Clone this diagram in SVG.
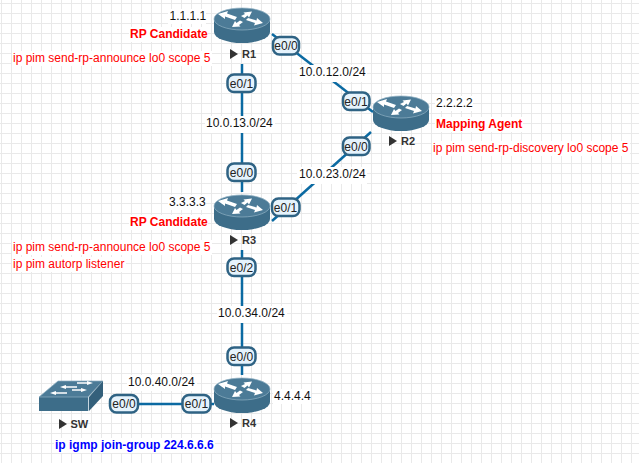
<svg xmlns="http://www.w3.org/2000/svg" width="639" height="463" viewBox="0 0 639 463">
<style>
text{font-family:"Liberation Sans",Arial,sans-serif;font-size:12px;fill:#111}
.bg{fill:#fff}
.red{fill:#f00}.blue{fill:#00f}.b{font-weight:bold}
.link{stroke:#0b6aa2;stroke-width:2.5;fill:none}
.ifbox{fill:#e6f3fc;stroke:#2f6384;stroke-width:2.5}
.if{text-anchor:middle;fill:#222;font-size:12px}
.nm{font-weight:bold;fill:#333;font-size:11px}
.tri{fill:#333}
.body{fill:#3d6d89}
.top{fill:#4c7b97;stroke:#8fb0c3;stroke-width:.7}
.arw{fill:#fff}
</style>
<defs>
<pattern id="grid" width="10" height="10" patternUnits="userSpaceOnUse" x="1" y="3">
<path d="M0 .5H10M.5 0V10" stroke="#e9e9e9" stroke-width="1" fill="none"/>
</pattern>
<g id="router">
<path class="body" d="M-28 0V13A28 11 0 0 0 28 13V0Z"/>
<ellipse class="top" cx="0" cy="0" rx="28" ry="11"/>
<path class="arw" d="M-24 -5L-14 -8L-15 -5.500L-5 -2L-7 1L-17 -2.500L-17 0ZM21 4L12 6.500L13 4L4 1L6 -1L14.500 1.500L15 -1ZM10 -7.500L7 -1.500L5.500 -3.500L2.500 -1L-1 -3L3 -5L1.500 -6.500ZM-10 8L-7 2L-5.500 4L-2 1.500L1 3L-3 6L-1.500 7.500Z"/>
</g>
</defs>
<rect width="639" height="463" fill="#fff"/>
<rect width="639" height="463" fill="url(#grid)"/>
<g id="connectors">
<path class="link" d="M242 64V192"/>
<path class="link" d="M272 34L373 112"/>
<path class="link" d="M272 221L371 132"/>
<path class="link" d="M242 250V375"/>
<path class="link" d="M124 404H214"/>
</g>
<g id="link-labels">
<rect class="bg" x="297" y="65" width="70" height="17"/><text x="299" y="76">10.0.12.0/24</text>
<rect class="bg" x="205" y="116" width="70" height="17"/><text x="206" y="127">10.0.13.0/24</text>
<rect class="bg" x="297" y="167" width="70" height="17"/><text x="299" y="178">10.0.23.0/24</text>
<rect class="bg" x="217" y="306" width="70" height="17"/><text x="218" y="317">10.0.34.0/24</text>
<rect class="bg" x="127" y="375" width="70" height="16"/><text x="128" y="386">10.0.40.0/24</text>
</g>
<g id="R1">
<use href="#router" x="242" y="19"/>
<path class="tri" d="M230 49L238 54L230 59Z"/>
<text class="nm" x="242" y="58">R1</text>
<rect class="bg" x="168" y="9" width="38" height="15"/><text x="169.500" y="20">1.1.1.1</text>
<rect class="bg" x="129" y="27" width="79" height="15"/><text class="red b" x="130" y="38">RP Candidate</text>
<rect class="bg" x="12" y="51" width="200" height="15"/><text class="red" x="13" y="62">ip pim send-rp-announce lo0 scope 5</text>
<rect class="ifbox" x="273" y="37" width="26" height="17.500" rx="6.500"/><text class="if" x="286" y="50">e0/0</text>
<rect class="ifbox" x="227.500" y="74.500" width="28" height="17.500" rx="6.500"/><text class="if" x="241.500" y="87.500">e0/1</text>
</g>
<g id="R2">
<use href="#router" x="401" y="107"/>
<path class="tri" d="M389 136L397 141L389 146Z"/>
<text class="nm" x="401" y="145">R2</text>
<rect class="bg" x="435" y="96" width="38" height="15"/><text x="436" y="107">2.2.2.2</text>
<rect class="bg" x="435" y="117" width="88" height="15"/><text class="red b" x="436" y="128">Mapping Agent</text>
<rect class="bg" x="432" y="141" width="198" height="15"/><text class="red" x="433" y="152">ip pim send-rp-discovery lo0 scope 5</text>
<rect class="ifbox" x="343" y="92.500" width="26.500" height="17.500" rx="6.500"/><text class="if" x="356" y="105.500">e0/1</text>
<rect class="ifbox" x="343" y="137.500" width="26.500" height="17.500" rx="6.500"/><text class="if" x="356" y="150.500">e0/0</text>
</g>
<g id="R3">
<use href="#router" x="242" y="206"/>
<path class="tri" d="M230 235L238 240L230 245Z"/>
<text class="nm" x="242" y="244">R3</text>
<rect class="bg" x="168" y="195" width="38" height="15"/><text x="169" y="206">3.3.3.3</text>
<rect class="bg" x="129" y="215" width="79" height="15"/><text class="red b" x="130" y="226">RP Candidate</text>
<rect class="bg" x="12" y="240" width="200" height="15"/><text class="red" x="13" y="251">ip pim send-rp-announce lo0 scope 5</text>
<rect class="bg" x="12" y="257" width="114" height="15"/><text class="red" x="13" y="268">ip pim autorp listener</text>
<rect class="ifbox" x="227.500" y="163.500" width="28" height="17.500" rx="6.500"/><text class="if" x="241.500" y="176.500">e0/0</text>
<rect class="ifbox" x="272" y="198.500" width="27.500" height="17.500" rx="6.500"/><text class="if" x="285.500" y="211.500">e0/1</text>
<rect class="ifbox" x="227.500" y="258.500" width="28" height="17.500" rx="6.500"/><text class="if" x="241.500" y="271.500">e0/2</text>
</g>
<g id="R4">
<use href="#router" x="242" y="389"/>
<path class="tri" d="M230 418L238 423L230 428Z"/>
<text class="nm" x="242" y="427">R4</text>
<rect class="bg" x="273" y="389" width="38" height="15"/><text x="274" y="400">4.4.4.4</text>
<rect class="ifbox" x="227.500" y="347.500" width="28" height="17.500" rx="6.500"/><text class="if" x="241.500" y="360.500">e0/0</text>
<rect class="ifbox" x="182.500" y="395" width="28" height="17.500" rx="6.500"/><text class="if" x="196.500" y="408">e0/1</text>
</g>
<g id="SW">
<path class="body" d="M39 397H88V411H39Z"/>
<path class="top" d="M39 397L58 381H103L88 397Z"/>
<path d="M89 397L103 381V396L89 411Z" fill="#34607b"/>
<path d="M88.500 397V411" stroke="#c5d6e0" stroke-width="1"/>
<path class="arw" d="M93 383L87 381V382.300H77V383.700H87V385ZM60 387L66 385V386.300H77V387.700H66V389ZM87 390L81 388V389.300H72V390.700H81V392ZM50 393L56 391V392.300H67V393.700H56V395Z"/>
<path class="tri" d="M59 419L67 424L59 429Z"/>
<text class="nm" x="70.500" y="428">SW</text>
<rect class="bg" x="54" y="438" width="161" height="15"/><text class="blue b" x="55" y="449">ip igmp join-group 224.6.6.6</text>
<rect class="ifbox" x="110" y="395" width="28" height="17.500" rx="6.500"/><text class="if" x="124" y="408">e0/0</text>
</g>
</svg>
